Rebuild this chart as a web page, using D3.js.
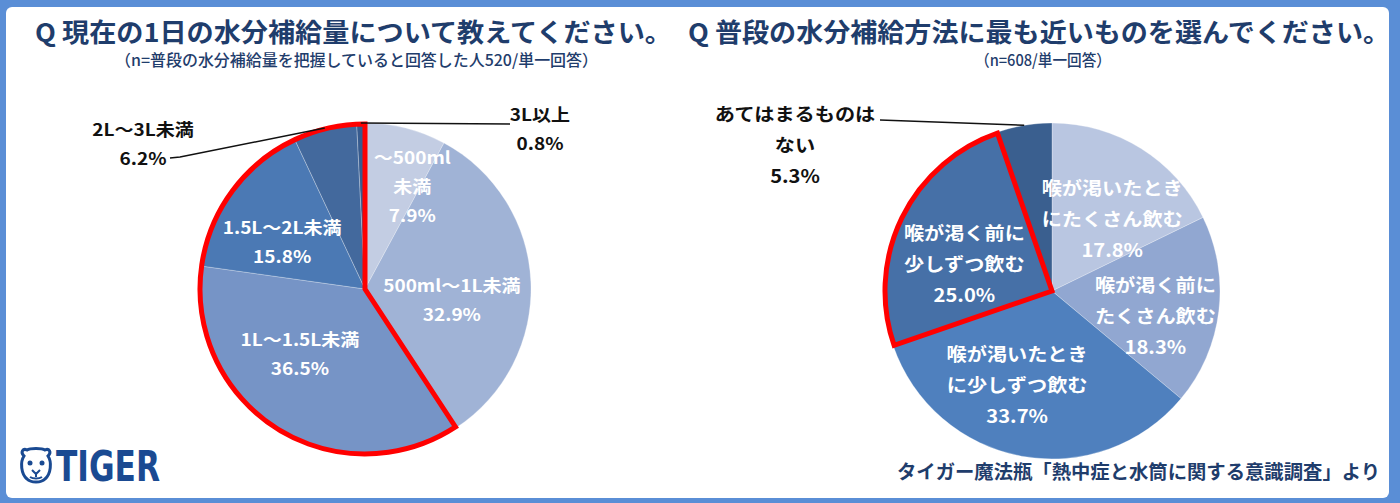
<!DOCTYPE html>
<html lang="ja">
<head>
  <meta charset="UTF-8">
  <title>水分補給</title>
  <script src="https://d3js.org/d3.v7.min.js"></script>
  <style>
    body {
      margin: 0;
      padding: 0;
      background: #ffffff;
      font-family: "Noto Sans CJK JP", sans-serif;
    }

    .title {
      fill: #1f3d6c;
      font-weight: bold;
      font-size: 26px;
    }

    .subtitle {
      fill: #1f3d6c;
      font-size: 16px;
      font-weight: 500;
    }

    .inlabel {
      fill: #ffffff;
      font-weight: bold;
    }

    .outlabel {
      fill: #111111;
      font-weight: bold;
    }

    .leader {
      stroke: #111111;
      stroke-width: 1.5;
      fill: none;
    }

    .highlight {
      fill: none;
      stroke: #ff0000;
      stroke-width: 5;
      stroke-linejoin: miter;
    }
  </style>
</head>
<body>
  <div id="chart"></div>
  <script>
    // left pie: daily water intake
    const amountCats = ["～500ml未満", "500ml～1L未満", "1L～1.5L未満", "1.5L～2L未満", "2L～3L未満", "3L以上"];
    const amountVals = [7.9, 32.9, 36.5, 15.8, 6.2, 0.8];
    const amountLines = [["～500ml", "未満"], ["500ml～1L未満"], ["1L～1.5L未満"], ["1.5L～2L未満"], ["2L～3L未満"], ["3L以上"]];
    const amountColors = ["#c3cde3", "#a0b3d6", "#7694c6", "#4b79b4", "#43699d", "#375b8e"];

    // right pie: how people drink
    const methodCats = ["喉が渇いたときにたくさん飲む", "喉が渇く前にたくさん飲む", "喉が渇いたときに少しずつ飲む", "喉が渇く前に少しずつ飲む", "あてはまるものはない"];
    const methodVals = [17.8, 18.3, 33.7, 25.0, 5.3];
    const methodLines = [["喉が渇いたとき", "にたくさん飲む"], ["喉が渇く前に", "たくさん飲む"], ["喉が渇いたとき", "に少しずつ飲む"], ["喉が渇く前に", "少しずつ飲む"], ["あてはまるものは", "ない"]];
    const methodColors = ["#b9c6e1", "#91a7d1", "#4f80be", "#4670a7", "#3a5f8f"];

    const W = 1400, H = 503;

    const svg = d3.select("#chart")
      .append("svg")
      .attr("width", W)
      .attr("height", H);

    // frame
    svg.append("rect").attr("width", W).attr("height", H).attr("fill", "#5a8ed6");
    svg.append("rect")
      .attr("x", 6).attr("y", 7)
      .attr("width", 1383).attr("height", 491)
      .attr("rx", 6)
      .attr("fill", "#ffffff");

    const fmt = d => d.toFixed(1) + "%";

    function drawPie(opt) {
      const g = svg.append("g").attr("transform", `translate(${opt.cx},${opt.cy})`);
      const data = opt.vals.map((v, i) => ({ cat: opt.cats[i], v: v, i: i }));
      const pie = d3.pie().sort(null).value(d => d.v);
      const arcs = pie(data);
      const arc = d3.arc().innerRadius(0).outerRadius(opt.r);
      const labelArc = d3.arc().innerRadius(opt.r * 0.62).outerRadius(opt.r * 0.62);
      const edgeArc = d3.arc().innerRadius(opt.r).outerRadius(opt.r);

      g.selectAll("path.slice")
        .data(arcs)
        .enter()
        .append("path")
        .attr("class", "slice")
        .attr("d", arc)
        .attr("fill", d => opt.colors[d.index])
        .attr("stroke", "rgba(255,255,255,0.35)")
        .attr("stroke-width", 0.8);

      // red outline round the highlighted slices
      const hl = arcs.filter(d => opt.highlight.includes(d.index));
      const hlArc = d3.arc().innerRadius(0).outerRadius(opt.r - 1)
        .startAngle(d3.min(hl, d => d.startAngle))
        .endAngle(d3.max(hl, d => d.endAngle));
      g.append("path").attr("class", "highlight").attr("d", hlArc());

      arcs.forEach(d => {
        const lines = opt.lines[d.index].concat([fmt(d.data.v)]);
        const lay = opt.labels[d.index];
        let x, y, cls;
        if (lay.out) {
          x = lay.dx; y = lay.dy; cls = "outlabel";
          const p = edgeArc.centroid(d);
          g.append("polyline")
            .attr("class", "leader")
            .attr("points", lay.line.map(q => q.join(",")).join(" ") + " " + p.join(","));
        } else {
          const c = labelArc.centroid(d);
          x = c[0] + lay.dx; y = c[1] + lay.dy; cls = "inlabel";
        }
        const n = lines.length;
        const t = g.append("text")
          .attr("class", cls)
          .attr("text-anchor", "middle")
          .attr("font-size", opt.fontSize)
          .attr("transform", `translate(${x},${y}) scale(1.12,1)`);
        lines.forEach((s, k) => {
          t.append("tspan")
            .attr("x", 0)
            .attr("y", (k - (n - 1) / 2) * opt.lineGap)
            .attr("dy", "0.36em")
            .text(s);
        });
      });
    }

    drawPie({
      cx: 365, cy: 289, r: 166,
      cats: amountCats, vals: amountVals, lines: amountLines, colors: amountColors,
      highlight: [2, 3, 4, 5],
      fontSize: 17, lineGap: 29,
      labels: [
        { dx: 22, dy: -2 },
        { dx: -16, dy: 16 },
        { dx: -10, dy: -22 },
        { dx: 0, dy: 14 },
        { out: true, dx: -222, dy: -145, line: [[-195, -131], [-185, -132]] },
        { out: true, dx: 175, dy: -160, line: [[145, -165]] }
      ]
    });

    drawPie({
      cx: 1052, cy: 291, r: 168,
      cats: methodCats, vals: methodVals, lines: methodLines, colors: methodColors,
      highlight: [3],
      fontSize: 18, lineGap: 31,
      labels: [
        { dx: 5, dy: 17 },
        { dx: 0, dy: 13 },
        { dx: -16, dy: -8 },
        { dx: 6, dy: 19 },
        { out: true, dx: -257, dy: -145, line: [[-172, -171]] }
      ]
    });

    // titles
    svg.append("text").attr("class", "title")
      .attr("x", 35).attr("y", 42)
      .attr("textLength", 637).attr("lengthAdjust", "spacingAndGlyphs")
      .text("Q 現在の1日の水分補給量について教えてください。");
    svg.append("text").attr("class", "subtitle")
      .attr("x", 115).attr("y", 66)
      .attr("textLength", 483).attr("lengthAdjust", "spacingAndGlyphs")
      .text("（n=普段の水分補給量を把握していると回答した人520/単一回答）");

    svg.append("text").attr("class", "title")
      .attr("x", 688).attr("y", 42)
      .attr("textLength", 702).attr("lengthAdjust", "spacingAndGlyphs")
      .text("Q 普段の水分補給方法に最も近いものを選んでください。");
    svg.append("text").attr("class", "subtitle")
      .attr("x", 975).attr("y", 66)
      .attr("textLength", 136).attr("lengthAdjust", "spacingAndGlyphs")
      .text("（n=608/単一回答）");

    // source note
    svg.append("text")
      .attr("x", 897).attr("y", 479)
      .attr("textLength", 483).attr("lengthAdjust", "spacingAndGlyphs")
      .attr("font-size", 19)
      .attr("font-weight", "bold")
      .attr("fill", "#1f3d6c")
      .text("タイガー魔法瓶「熱中症と水筒に関する意識調査」より");

    // logo
    const logo = svg.append("g").attr("transform", "translate(18,448)");
    logo.append("path")
      .attr("d", "M6,8 C2,4 5,0 9,2 C12,0 24,0 27,2 C31,0 34,4 30,8 C34,14 33,26 27,31 C23,35 13,35 9,31 C3,26 2,14 6,8 Z")
      .attr("fill", "none").attr("stroke", "#1a4a92").attr("stroke-width", 3);
    logo.append("circle").attr("cx", 12).attr("cy", 15).attr("r", 2.5).attr("fill", "#1a4a92");
    logo.append("circle").attr("cx", 24).attr("cy", 15).attr("r", 2.5).attr("fill", "#1a4a92");
    logo.append("path").attr("d", "M14,22 L18,26 L22,22 M18,26 L18,29 M12,29 C15,31 21,31 24,29")
      .attr("fill", "none").attr("stroke", "#1a4a92").attr("stroke-width", 2);
    logo.append("text")
      .attr("x", 38).attr("y", 33)
      .attr("textLength", 104).attr("lengthAdjust", "spacingAndGlyphs")
      .attr("font-family", "DejaVu Sans")
      .attr("font-weight", "bold")
      .attr("font-size", 42)
      .attr("fill", "#1a4a92")
      .text("TIGER");
  </script>
</body>
</html>
